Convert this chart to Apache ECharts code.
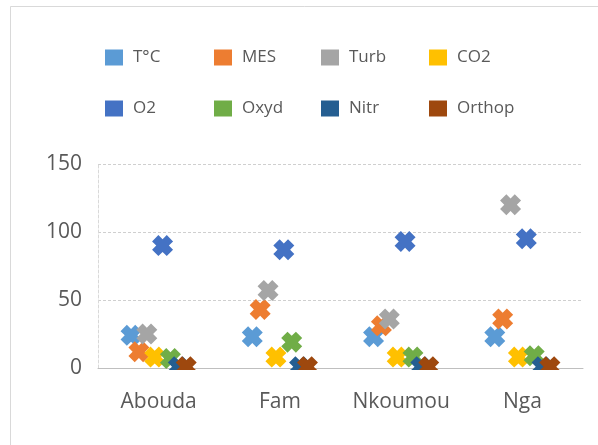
<!DOCTYPE html>
<html>
<head>
<meta charset="utf-8">
<script src="https://cdn.jsdelivr.net/npm/echarts@6/dist/echarts.min.js"></script>
<style>
  html, body { margin: 0; padding: 0; background: #ffffff; }
  #chart { width: 598px; height: 445px; }
</style>
</head>
<body>
<div id="chart"></div>
<script>
// Sampling sites and measured parameters
const sites = ['Abouda', 'Fam', 'Nkoumou', 'Nga'];
const seriesNames = ['T°C', 'MES', 'Turb', 'CO2', 'O2', 'Oxyd', 'Nitr', 'Orthop'];
const tempC  = [24, 23, 23, 23];
const mes    = [12, 43, 31, 36];
const turb   = [25, 57, 36, 120];
const co2    = [8, 8, 8, 8];
const o2     = [90, 87, 93, 95];
const oxyd   = [7, 19, 8, 9];
const nitr   = [1, 1, 1, 1];
const orthop = [1, 1, 1, 1];
const yTicks = [0, 50, 100, 150];

const seriesValues = [tempC, mes, turb, co2, o2, oxyd, nitr, orthop];
const palette = ['#5B9BD5', '#ED7D31', '#A5A5A5', '#FFC000', '#4472C4', '#70AD47', '#255E91', '#9E480E'];

// Thick "x" marker
const crossPath = 'path://M0,3L3,0L5,2L7,0L10,3L8,5L10,7L7,10L5,8L3,10L0,7L2,5Z';

const chart = echarts.init(document.getElementById('chart'), null, { renderer: 'canvas' });

const textGrey = '#595959';
const font = "'Open Sans', 'Noto Sans', sans-serif";

// Legend laid out as a 4 x 2 table: one legend component per entry
const legendCols = [105, 214, 321, 429];
const legendRows = [49, 100];
const legends = seriesNames.map((name, i) => ({
  left: legendCols[i % 4],
  top: legendRows[Math.floor(i / 4)],
  padding: 0,
  icon: 'rect',
  itemWidth: 18,
  itemHeight: 16,
  selectedMode: false,
  data: [name],
  textStyle: {
    fontFamily: font,
    fontSize: 17,
    color: textGrey,
    padding: [0, 0, 0, 5]
  }
}));

const option = {
  backgroundColor: '#ffffff',
  animation: false,
  color: palette,
  legend: legends,
  grid: { left: 98, right: 15, top: 164, bottom: 77, containLabel: false },
  xAxis: {
    type: 'category',
    data: sites,
    axisTick: { show: false },
    axisLine: { lineStyle: { color: '#bfbfbf', width: 1 } },
    axisLabel: { fontFamily: font, fontSize: 21, color: textGrey, margin: 24, interval: 0 },
    splitLine: { show: false }
  },
  yAxis: {
    type: 'value',
    min: yTicks[0],
    max: yTicks[yTicks.length - 1],
    interval: yTicks[1] - yTicks[0],
    axisLine: { show: true, lineStyle: { color: '#d9d9d9', type: [3, 2] } },
    axisTick: { show: false },
    axisLabel: { fontFamily: font, fontSize: 21, color: textGrey, margin: 16 },
    splitLine: { lineStyle: { color: '#cfcfcf', type: [3, 2] } }
  },
  series: seriesNames.map((name, i) => ({
    name: name,
    type: 'pictorialBar',
    data: seriesValues[i],
    symbol: crossPath,
    symbolSize: [21, 21],
    symbolPosition: 'end',
    symbolOffset: [0, '-50%'],
    barGap: '0%',
    barCategoryGap: '48%',
    itemStyle: { color: palette[i] },
    z: 10 + i
  })),
  graphic: [
    {
      type: 'rect',
      z: -10,
      shape: { x: 10.5, y: 6.5, width: 620, height: 460 },
      style: { fill: 'none', stroke: '#d9d9d9', lineWidth: 1 }
    },
    {
      // keeps near-zero markers inside the plot area
      type: 'rect',
      z: 100,
      shape: { x: 98, y: 370, width: 486, height: 14 },
      style: { fill: '#ffffff' }
    }
  ]
};

chart.setOption(option);
</script>
</body>
</html>
